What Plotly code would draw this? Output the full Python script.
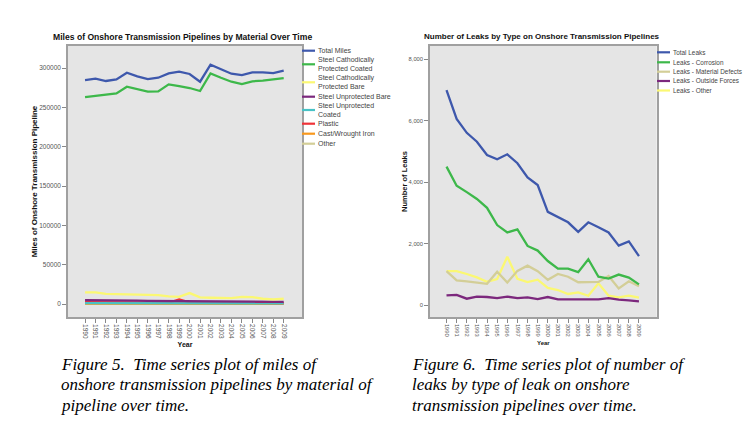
import plotly.graph_objects as go

W, H = 748, 425

years = list(range(1990, 2010))

# ---- Figure 5 data (miles) ----
miles_names = ["Total Miles", "Steel Cathodically<br>Protected Coated", "Steel Cathodically<br>Protected Bare",
               "Steel Unprotected Bare", "Steel Unprotected<br>Coated", "Plastic", "Cast/Wrought Iron", "Other"]
total_miles = [284700, 286400, 283500, 285600, 294000, 289400, 286000, 287700, 293200, 295300,
               292400, 282600, 304200, 298700, 292800, 291100, 294500, 294500, 293600, 296600]
scp_coated = [263100, 264400, 265700, 267800, 276300, 272900, 269900, 270300, 279200, 277100,
              274600, 270800, 293200, 287700, 282600, 279700, 283100, 283900, 285200, 287300]
scp_bare = [14700, 14700, 13000, 12600, 12600, 11800, 11300, 11300, 9700, 9200,
            13900, 8400, 8000, 7600, 7600, 9200, 8800, 6700, 5900, 6700]
su_bare = [5000, 5000, 4800, 4600, 4500, 4200, 4000, 3900, 3800, 3700,
           3600, 3500, 3400, 3400, 3300, 3200, 3200, 3200, 3000, 2800]
su_coated = [1200, 1200, 1100, 1100, 1100, 1000, 1000, 1000, 1000, 1000,
             900, 900, 900, 900, 900, 900, 800, 800, 800, 800]
plastic = [2500, 2400, 2000, 1800, 1700, 1600, 1500, 1500, 1600, 5800,
           2000, 1600, 1500, 1500, 1400, 1400, 1400, 1300, 1300, 1200]
cast_iron = [600, 600, 600, 500, 500, 500, 500, 500, 500, 500,
             400, 400, 400, 400, 400, 400, 400, 300, 300, 300]
other_miles = [300, 300, 300, 300, 300, 300, 300, 300, 300, 300,
               300, 300, 300, 300, 300, 300, 300, 300, 300, 300]
miles_series = [total_miles, scp_coated, scp_bare, su_bare, su_coated, plastic, cast_iron, other_miles]
miles_colors = ["#3E58AC", "#3DB84A", "#FBF873", "#7C287D", "#48C2C5", "#EF3338", "#F8981D", "#D3CE97"]
miles_ticks = [0, 50000, 100000, 150000, 200000, 250000, 300000]

# ---- Figure 6 data (leaks) ----
leak_names = ["Total Leaks", "Leaks - Corrosion", "Leaks - Material Defects", "Leaks - Outside Forces", "Leaks - Other"]
total_leaks = [7000, 6060, 5610, 5320, 4890, 4750, 4910, 4620, 4160, 3910,
               3040, 2860, 2700, 2390, 2700, 2540, 2370, 1940, 2080, 1600]
leaks_corrosion = [4510, 3890, 3680, 3460, 3170, 2610, 2370, 2470, 1930, 1780,
                   1440, 1190, 1190, 1080, 1500, 930, 870, 1000, 900, 680]
leaks_material = [1110, 810, 780, 750, 700, 1090, 740, 1120, 1290, 1110,
                  830, 1020, 930, 750, 760, 760, 950, 550, 780, 620]
leaks_outside = [320, 340, 215, 280, 270, 236, 282, 236, 260, 204,
                 270, 193, 193, 193, 172, 193, 236, 182, 160, 128]
leaks_other = [1115, 1115, 1018, 910, 768, 855, 1580, 865, 758, 833,
               563, 498, 368, 423, 312, 715, 312, 260, 312, 247]
leak_series = [total_leaks, leaks_corrosion, leaks_material, leaks_outside, leaks_other]
leak_colors = ["#3E58AC", "#3DB84A", "#D3CE97", "#7C287D", "#FBF873"]
leak_ticks = [0, 2000, 4000, 6000, 8000]

titles = ["Miles of Onshore Transmission Pipelines by Material Over Time",
          "Number of Leaks by Type on Onshore Transmission Pipelines"]
ytitles = ["Miles of Onshore Transmission Pipeline", "Number of Leaks"]
captions = [["Figure 5.\u00a0 Time series plot of miles of",
             "onshore transmission pipelines by material of",
             "pipeline over time."],
            ["Figure 6.\u00a0 Time series plot of number of",
             "leaks by type of leak on onshore",
             "transmission pipelines over time."]]


def px(x):
    return x / W


def py(y):
    return 1 - y / H


fig = go.Figure()

# thin series first, totals drawn last (on top)
for name, vals, col in reversed(list(zip(miles_names, miles_series, miles_colors))):
    fig.add_trace(go.Scatter(x=years, y=vals, mode="lines", name=name.replace("<br>", " "),
                             line=dict(color=col, width=2.3), xaxis="x", yaxis="y", showlegend=False))
for name, vals, col in reversed(list(zip(leak_names, leak_series, leak_colors))):
    fig.add_trace(go.Scatter(x=years, y=vals, mode="lines", name=name,
                             line=dict(color=col, width=2.3), xaxis="x2", yaxis="y2", showlegend=False))


def xaxis_cfg(domain, anchor, fs, title_fs):
    return dict(domain=domain, anchor=anchor, range=[1988.37, 2010.75], tickmode="array", tickvals=years,
                ticktext=[str(y) for y in years], tickangle=90, ticks="outside", ticklen=4,
                tickcolor="#888888", tickfont=dict(family="Liberation Sans", size=fs, color="#555555"),
                showline=True, mirror=True, linecolor="#A0A0A0", linewidth=1.5, showgrid=False,
                zeroline=False,
                title=dict(text="<b>Year</b>", font=dict(family="Liberation Sans", size=title_fs,
                                                         color="#111111"), standoff=4))


def yaxis_cfg(domain, anchor, rng, ticks, labels, fs, title, title_fs):
    return dict(domain=domain, anchor=anchor, range=rng, tickmode="array", tickvals=ticks, ticktext=labels,
                ticks="outside", ticklen=4, tickcolor="#888888",
                tickfont=dict(family="Liberation Sans", size=fs, color="#555555"),
                showline=True, mirror=True, linecolor="#A0A0A0", linewidth=1.5, showgrid=False,
                zeroline=False,
                title=dict(text="<b>" + title + "</b>",
                           font=dict(family="Liberation Sans", size=title_fs, color="#111111"), standoff=0))


fig.update_layout(
    width=W, height=H, margin=dict(l=0, r=0, t=0, b=0),
    paper_bgcolor="white", plot_bgcolor="#E5E5E5",
    xaxis=xaxis_cfg([px(68), px(302)], "y", 6.5, 7),
    yaxis=yaxis_cfg([py(317), py(46)], "x", [-16500, 328000], miles_ticks, [str(v) for v in miles_ticks],
                    6.5, ytitles[0], 8),
    xaxis2=xaxis_cfg([px(430), px(656.7)], "y2", 5.8, 6),
    yaxis2=yaxis_cfg([py(317), py(46)], "x2", [-380, 8433], leak_ticks, [f"{v:,}" for v in leak_ticks],
                     5.8, ytitles[1], 7.5),
    showlegend=False,
)

annotations = []
shapes = []

# chart titles
for t, cx, fs in zip(titles, [182, 542], [8.6, 8]):
    annotations.append(dict(text="<b>" + t + "</b>", x=px(cx), y=py(37), xref="paper", yref="paper",
                            xanchor="center", yanchor="middle", showarrow=False,
                            font=dict(family="Liberation Sans", size=fs, color="#111111")))

# legends (key lines + labels)
legend_specs = [
    (miles_names, miles_colors, 302, 315, 316, 7, [50.7, 64.3, 82.3, 96.7, 110, 123.7, 133.7, 143.7]),
    (leak_names, leak_colors, 657, 670, 671, 6.4, [52.3, 62.3, 71.7, 81, 90.5]),
]
for names, cols, x0, x1, xt, fs, ys in legend_specs:
    for n, c, yy in zip(names, cols, ys):
        shapes.append(dict(type="line", xref="paper", yref="paper", x0=px(x0), x1=px(x1), y0=py(yy), y1=py(yy),
                           line=dict(color=c, width=2.2)))
        annotations.append(dict(text=n, x=px(xt), y=py(yy), xref="paper", yref="paper", xanchor="left",
                                yanchor="middle", align="left", showarrow=False,
                                font=dict(family="Liberation Sans", size=fs, color="#444444")))

# captions
for lines, x0 in zip(captions, [59, 410]):
    for ln, yy in zip(lines, [364, 384.5, 405]):
        annotations.append(dict(text="<i>" + ln + "</i>", x=px(x0), y=py(yy), xref="paper", yref="paper",
                                xanchor="left", yanchor="middle", showarrow=False,
                                font=dict(family="Liberation Serif", size=17, color="#000000")))

fig.update_layout(annotations=annotations, shapes=shapes)

fig.write_html("out.html", config={"displayModeBar": False},
               post_script="document.body.style.margin='0px';")
